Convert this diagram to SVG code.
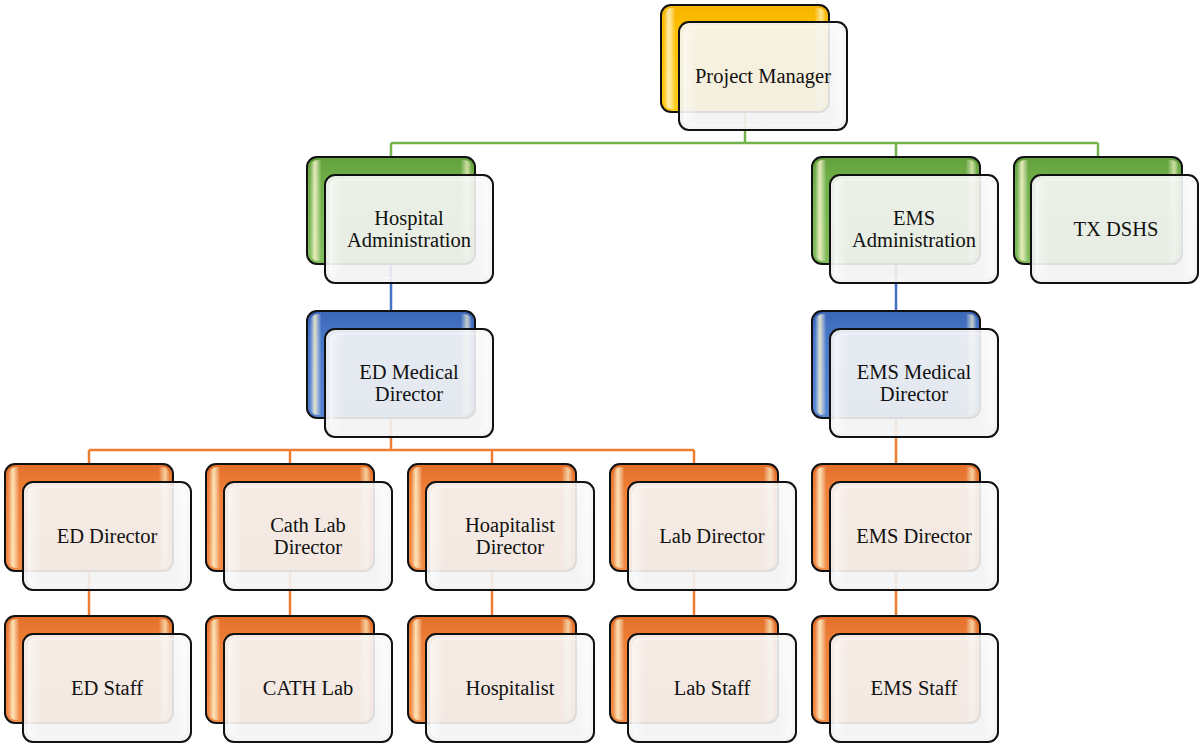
<svg xmlns="http://www.w3.org/2000/svg" width="1199" height="745" viewBox="0 0 1199 745">
  <defs>
    <!-- glossy fills for the coloured back cards -->
    <linearGradient id="gYellow" x1="0" y1="0" x2="0" y2="1">
      <stop offset="0" stop-color="#f5b400"/>
      <stop offset="0.25" stop-color="#ffc000"/>
      <stop offset="1" stop-color="#ffcb1a"/>
    </linearGradient>
    <linearGradient id="gGreen" x1="0" y1="0" x2="0" y2="1">
      <stop offset="0" stop-color="#62a13b"/>
      <stop offset="0.25" stop-color="#72b04a"/>
      <stop offset="1" stop-color="#80bb59"/>
    </linearGradient>
    <linearGradient id="gBlue" x1="0" y1="0" x2="0" y2="1">
      <stop offset="0" stop-color="#3a66b8"/>
      <stop offset="0.25" stop-color="#4a78c8"/>
      <stop offset="1" stop-color="#5684d0"/>
    </linearGradient>
    <linearGradient id="gOrange" x1="0" y1="0" x2="0" y2="1">
      <stop offset="0" stop-color="#e2702a"/>
      <stop offset="0.25" stop-color="#ef8038"/>
      <stop offset="1" stop-color="#f28c45"/>
    </linearGradient>
    <!-- side highlight strips on the back cards -->
    <linearGradient id="gShine" x1="0" y1="0" x2="1" y2="0">
      <stop offset="0" stop-color="#ffffff" stop-opacity="0"/>
      <stop offset="0.03" stop-color="#fff6c8" stop-opacity="0.85"/>
      <stop offset="0.07" stop-color="#ffffff" stop-opacity="0"/>
      <stop offset="0.93" stop-color="#ffffff" stop-opacity="0"/>
      <stop offset="0.97" stop-color="#fff6c8" stop-opacity="0.7"/>
      <stop offset="1" stop-color="#ffffff" stop-opacity="0"/>
    </linearGradient>
    <!-- translucent face of the front cards -->
    <linearGradient id="gFace" x1="0" y1="0" x2="0" y2="1">
      <stop offset="0" stop-color="#f7f7f7"/>
      <stop offset="1" stop-color="#f2f2f2"/>
    </linearGradient>
    <linearGradient id="gFaceShine" x1="0" y1="0" x2="1" y2="0">
      <stop offset="0" stop-color="#ffffff" stop-opacity="0.5"/>
      <stop offset="0.08" stop-color="#ffffff" stop-opacity="0"/>
      <stop offset="0.92" stop-color="#ffffff" stop-opacity="0"/>
      <stop offset="1" stop-color="#ffffff" stop-opacity="0.5"/>
    </linearGradient>
  </defs>
  <style>
    .back { stroke: #111; stroke-width: 2; }
    .shine { fill: url(#gShine); stroke: none; }
    .face { fill: url(#gFace); fill-opacity: 0.9; stroke: #111; stroke-width: 2; }
    .faceShine { fill: url(#gFaceShine); stroke: #ffffff; stroke-opacity: 0.6; stroke-width: 1; }
    .y { fill: url(#gYellow); }
    .g { fill: url(#gGreen); }
    .b { fill: url(#gBlue); }
    .o { fill: url(#gOrange); }
    .lbl { font-family: "Liberation Serif", "Times New Roman", serif; font-size: 20.5px; fill: #111; text-anchor: middle; }
    .cn { fill: none; stroke-width: 2.5; }
    .cg { stroke: #74b24b; }
    .cb { stroke: #4472c4; }
    .co { stroke: #ed7d31; }
  </style>

  <!-- connectors -->
  <g id="connectors">
    <path class="cn cg" d="M745,112 V143 M391,143 H1098 M391,143 V157 M896,143 V157 M1098,143 V157"/>
    <path class="cn cb" d="M391,264 V311 M896,264 V311"/>
    <path class="cn co" d="M391,418 V450 M89,450 H694 M89,450 V464 M290,450 V464 M492,450 V464 M694,450 V464 M896,418 V464"/>
    <path class="cn co" d="M89,571 V616 M290,571 V616 M492,571 V616 M694,571 V616 M896,571 V616"/>
  </g>

  <!-- Project Manager -->
  <g id="project-manager">
    <rect class="back y" x="661" y="5" width="168" height="107" rx="10"/>
    <rect class="shine" x="664" y="8" width="162" height="101" rx="8"/>
    <rect class="face" x="679" y="22" width="168" height="108" rx="10"/>
    <rect class="faceShine" x="684" y="27" width="158" height="98" rx="7"/>
    <text class="lbl" x="763" y="83">Project Manager</text>
  </g>

  <!-- Hospital Administration -->
  <g id="hospital-administration">
    <rect class="back g" x="307" y="157" width="168" height="107" rx="10"/>
    <rect class="shine" x="310" y="160" width="162" height="101" rx="8"/>
    <rect class="face" x="325" y="175" width="168" height="108" rx="10"/>
    <rect class="faceShine" x="330" y="180" width="158" height="98" rx="7"/>
    <text class="lbl" x="409" y="225">Hospital</text>
    <text class="lbl" x="409" y="247">Administration</text>
  </g>

  <!-- EMS Administration -->
  <g id="ems-administration">
    <rect class="back g" x="812" y="157" width="168" height="107" rx="10"/>
    <rect class="shine" x="815" y="160" width="162" height="101" rx="8"/>
    <rect class="face" x="830" y="175" width="168" height="108" rx="10"/>
    <rect class="faceShine" x="835" y="180" width="158" height="98" rx="7"/>
    <text class="lbl" x="914" y="225">EMS</text>
    <text class="lbl" x="914" y="247">Administration</text>
  </g>

  <!-- TX DSHS -->
  <g id="tx-dshs">
    <rect class="back g" x="1014" y="157" width="168" height="107" rx="10"/>
    <rect class="shine" x="1017" y="160" width="162" height="101" rx="8"/>
    <rect class="face" x="1031" y="175" width="167" height="108" rx="10"/>
    <rect class="faceShine" x="1036" y="180" width="157" height="98" rx="7"/>
    <text class="lbl" x="1116" y="236">TX DSHS</text>
  </g>

  <!-- ED Medical Director -->
  <g id="ed-medical-director">
    <rect class="back b" x="307" y="311" width="168" height="107" rx="10"/>
    <rect class="shine" x="310" y="314" width="162" height="101" rx="8"/>
    <rect class="face" x="325" y="329" width="168" height="108" rx="10"/>
    <rect class="faceShine" x="330" y="334" width="158" height="98" rx="7"/>
    <text class="lbl" x="409" y="379">ED Medical</text>
    <text class="lbl" x="409" y="401">Director</text>
  </g>

  <!-- EMS Medical Director -->
  <g id="ems-medical-director">
    <rect class="back b" x="812" y="311" width="168" height="107" rx="10"/>
    <rect class="shine" x="815" y="314" width="162" height="101" rx="8"/>
    <rect class="face" x="830" y="329" width="168" height="108" rx="10"/>
    <rect class="faceShine" x="835" y="334" width="158" height="98" rx="7"/>
    <text class="lbl" x="914" y="379">EMS Medical</text>
    <text class="lbl" x="914" y="401">Director</text>
  </g>

  <!-- ED Director -->
  <g id="ed-director">
    <rect class="back o" x="5" y="464" width="168" height="107" rx="10"/>
    <rect class="shine" x="8" y="467" width="162" height="101" rx="8"/>
    <rect class="face" x="23" y="482" width="168" height="108" rx="10"/>
    <rect class="faceShine" x="28" y="487" width="158" height="98" rx="7"/>
    <text class="lbl" x="107" y="543">ED Director</text>
  </g>

  <!-- Cath Lab Director -->
  <g id="cath-lab-director">
    <rect class="back o" x="206" y="464" width="168" height="107" rx="10"/>
    <rect class="shine" x="209" y="467" width="162" height="101" rx="8"/>
    <rect class="face" x="224" y="482" width="168" height="108" rx="10"/>
    <rect class="faceShine" x="229" y="487" width="158" height="98" rx="7"/>
    <text class="lbl" x="308" y="532">Cath Lab</text>
    <text class="lbl" x="308" y="554">Director</text>
  </g>

  <!-- Hoapitalist Director -->
  <g id="hoapitalist-director">
    <rect class="back o" x="408" y="464" width="168" height="107" rx="10"/>
    <rect class="shine" x="411" y="467" width="162" height="101" rx="8"/>
    <rect class="face" x="426" y="482" width="168" height="108" rx="10"/>
    <rect class="faceShine" x="431" y="487" width="158" height="98" rx="7"/>
    <text class="lbl" x="510" y="532">Hoapitalist</text>
    <text class="lbl" x="510" y="554">Director</text>
  </g>

  <!-- Lab Director -->
  <g id="lab-director">
    <rect class="back o" x="610" y="464" width="168" height="107" rx="10"/>
    <rect class="shine" x="613" y="467" width="162" height="101" rx="8"/>
    <rect class="face" x="628" y="482" width="168" height="108" rx="10"/>
    <rect class="faceShine" x="633" y="487" width="158" height="98" rx="7"/>
    <text class="lbl" x="712" y="543">Lab Director</text>
  </g>

  <!-- EMS Director -->
  <g id="ems-director">
    <rect class="back o" x="812" y="464" width="168" height="107" rx="10"/>
    <rect class="shine" x="815" y="467" width="162" height="101" rx="8"/>
    <rect class="face" x="830" y="482" width="168" height="108" rx="10"/>
    <rect class="faceShine" x="835" y="487" width="158" height="98" rx="7"/>
    <text class="lbl" x="914" y="543">EMS Director</text>
  </g>

  <!-- ED Staff -->
  <g id="ed-staff">
    <rect class="back o" x="5" y="616" width="168" height="107" rx="10"/>
    <rect class="shine" x="8" y="619" width="162" height="101" rx="8"/>
    <rect class="face" x="23" y="634" width="168" height="108" rx="10"/>
    <rect class="faceShine" x="28" y="639" width="158" height="98" rx="7"/>
    <text class="lbl" x="107" y="695">ED Staff</text>
  </g>

  <!-- CATH Lab -->
  <g id="cath-lab">
    <rect class="back o" x="206" y="616" width="168" height="107" rx="10"/>
    <rect class="shine" x="209" y="619" width="162" height="101" rx="8"/>
    <rect class="face" x="224" y="634" width="168" height="108" rx="10"/>
    <rect class="faceShine" x="229" y="639" width="158" height="98" rx="7"/>
    <text class="lbl" x="308" y="695">CATH Lab</text>
  </g>

  <!-- Hospitalist -->
  <g id="hospitalist">
    <rect class="back o" x="408" y="616" width="168" height="107" rx="10"/>
    <rect class="shine" x="411" y="619" width="162" height="101" rx="8"/>
    <rect class="face" x="426" y="634" width="168" height="108" rx="10"/>
    <rect class="faceShine" x="431" y="639" width="158" height="98" rx="7"/>
    <text class="lbl" x="510" y="695">Hospitalist</text>
  </g>

  <!-- Lab Staff -->
  <g id="lab-staff">
    <rect class="back o" x="610" y="616" width="168" height="107" rx="10"/>
    <rect class="shine" x="613" y="619" width="162" height="101" rx="8"/>
    <rect class="face" x="628" y="634" width="168" height="108" rx="10"/>
    <rect class="faceShine" x="633" y="639" width="158" height="98" rx="7"/>
    <text class="lbl" x="712" y="695">Lab Staff</text>
  </g>

  <!-- EMS Staff -->
  <g id="ems-staff">
    <rect class="back o" x="812" y="616" width="168" height="107" rx="10"/>
    <rect class="shine" x="815" y="619" width="162" height="101" rx="8"/>
    <rect class="face" x="830" y="634" width="168" height="108" rx="10"/>
    <rect class="faceShine" x="835" y="639" width="158" height="98" rx="7"/>
    <text class="lbl" x="914" y="695">EMS Staff</text>
  </g>
</svg>
